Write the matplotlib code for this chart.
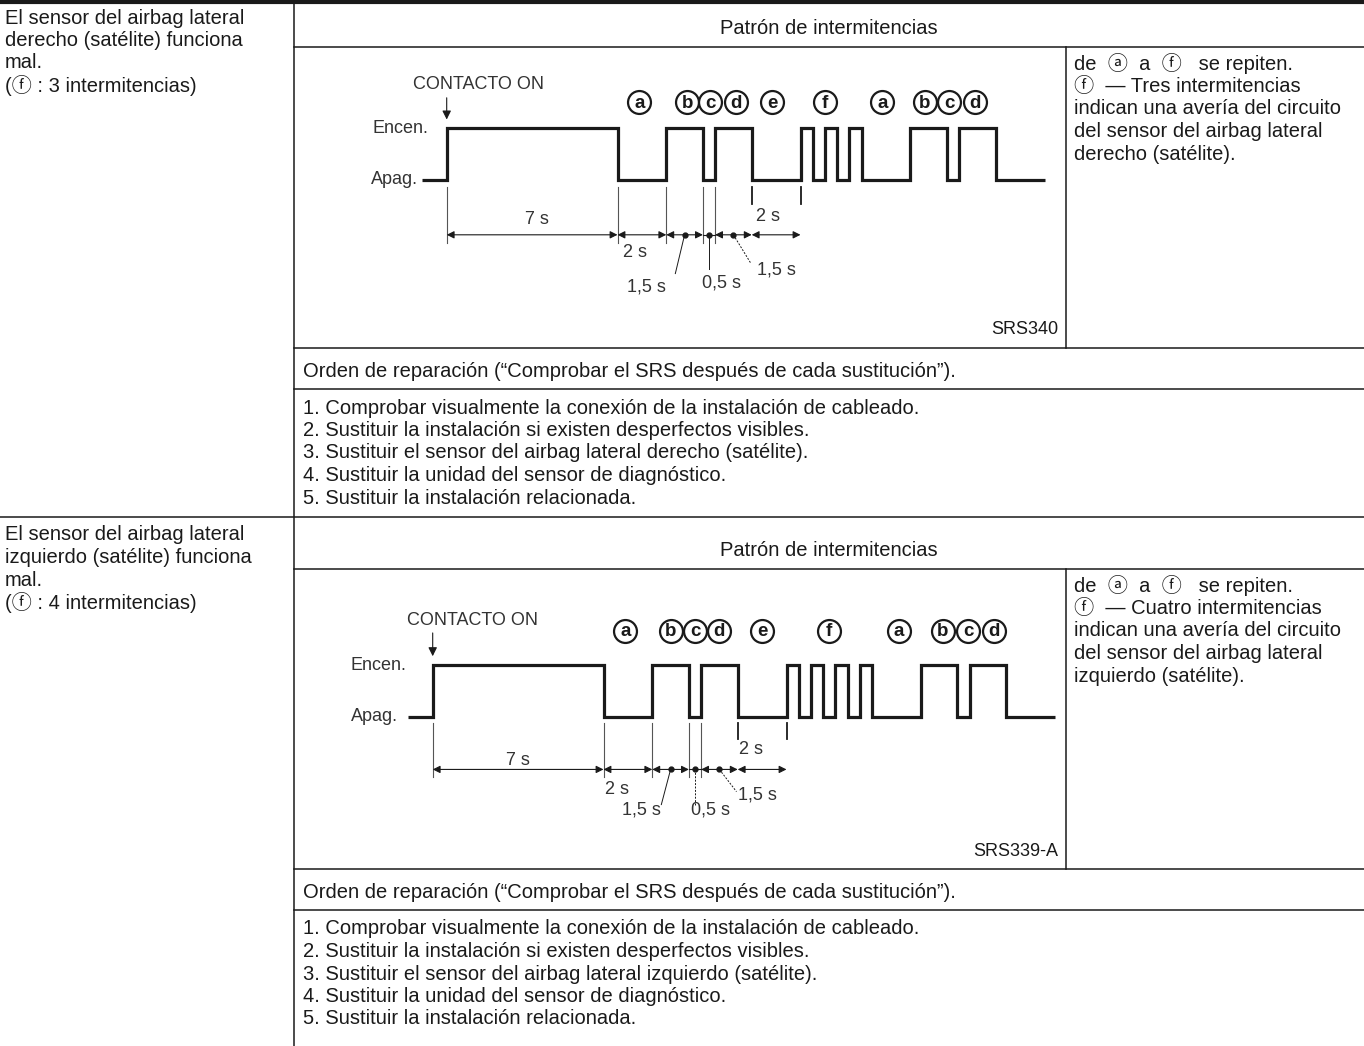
import matplotlib
matplotlib.use('Agg')
import matplotlib.pyplot as plt

plt.rcParams['font.family'] = ['Liberation Sans', 'Noto Sans CJK JP', 'DejaVu Sans']

W, H = 1364, 1046
PPS = 24.4      # pixels per second in the pattern drawings
UNIT = 51.7     # pixels between "Apag." and "Encen."

# blink patterns: level (1 = Encen., 0 = Apag.) and duration in s, starting 1 s before CONTACTO ON
levels_1 = [0, 1, 0, 1, 0, 1, 0, 1, 0, 1, 0, 1, 0, 1, 0, 1, 0]
durations_1 = [1, 7, 2, 1.5, 0.5, 1.5, 2, 0.5, 0.5, 0.5, 0.5, 0.5, 2, 1.5, 0.5, 1.5, 2]
levels_2 = [0, 1, 0, 1, 0, 1, 0, 1, 0, 1, 0, 1, 0, 1, 0, 1, 0, 1, 0]
durations_2 = [1, 7, 2, 1.5, 0.5, 1.5, 2, 0.5, 0.5, 0.5, 0.5, 0.5, 0.5, 0.5, 2, 1.5, 0.5, 1.5, 2]

# circled phase letters and where they sit (s)
letters = ['a', 'b', 'c', 'd', 'e', 'f', 'a', 'b', 'c', 'd']
letter_t_1 = [7.9, 9.85, 10.8, 11.85, 13.35, 15.5, 17.85, 19.6, 20.6, 21.65]
letter_t_2 = [7.9, 9.75, 10.75, 11.75, 13.5, 16.25, 19.1, 20.9, 21.95, 23.0]

# dimension marks (s) and texts
dim_marks = [0, 7, 9, 10.5, 11, 12.5, 14.5]
dim_texts = ['7 s', '2 s', '1,5 s', '0,5 s', '1,5 s', '2 s']

header = 'Patrón de intermitencias'
orden = 'Orden de reparación (\u201cComprobar el SRS después de cada sustitución\u201d).'

left_1 = ['El sensor del airbag lateral', 'derecho (satélite) funciona', 'mal.',
          '(\u24d5 : 3 intermitencias)']
left_2 = ['El sensor del airbag lateral', 'izquierdo (satélite) funciona', 'mal.',
          '(\u24d5 : 4 intermitencias)']
right_1 = ['de  \u24d0  a  \u24d5   se repiten.', '\u24d5  \u2014 Tres intermitencias',
           'indican una avería del circuito', 'del sensor del airbag lateral',
           'derecho (satélite).']
right_2 = ['de  \u24d0  a  \u24d5   se repiten.', '\u24d5  \u2014 Cuatro intermitencias',
           'indican una avería del circuito', 'del sensor del airbag lateral',
           'izquierdo (satélite).']
steps_1 = ['1. Comprobar visualmente la conexión de la instalación de cableado.',
           '2. Sustituir la instalación si existen desperfectos visibles.',
           '3. Sustituir el sensor del airbag lateral derecho (satélite).',
           '4. Sustituir la unidad del sensor de diagnóstico.',
           '5. Sustituir la instalación relacionada.']
steps_2 = ['1. Comprobar visualmente la conexión de la instalación de cableado.',
           '2. Sustituir la instalación si existen desperfectos visibles.',
           '3. Sustituir el sensor del airbag lateral izquierdo (satélite).',
           '4. Sustituir la unidad del sensor de diagnóstico.',
           '5. Sustituir la instalación relacionada.']
codes = ['SRS340', 'SRS339-A']

FS = 14.5
DFS = 13
INK = '#1a1a1a'
GREY = '#333333'

fig = plt.figure(figsize=(W / 100, H / 100), dpi=100)
base = fig.add_axes([0, 0, 1, 1])
base.set_xlim(0, W)
base.set_ylim(H, 0)
base.axis('off')


def wave_axes(box, t0_px, lo_px):
    x0, y0, x1, y1 = box
    ax = fig.add_axes([x0 / W, 1 - y1 / H, (x1 - x0) / W, (y1 - y0) / H])
    ax.set_xlim((x0 - t0_px) / PPS, (x1 - t0_px) / PPS)
    ax.set_ylim((lo_px - y1) / UNIT, (lo_px - y0) / UNIT)
    ax.axis('off')
    return ax


def draw_pattern(ax, levels, durations, letter_t, lay):
    xs, ys = [], []
    t = -durations[0]
    for lv, d in zip(levels, durations):
        xs += [t, t + d]
        ys += [lv, lv]
        t += d
    ax.plot(xs, ys, color=INK, lw=2.3, solid_joinstyle='miter', solid_capstyle='butt')

    ax.text(lay['encen'], 1, 'Encen.', ha='right', va='center', fontsize=DFS, color=GREY)
    ax.text(lay['apag'], 0, 'Apag.', ha='right', va='center', fontsize=DFS, color=GREY)
    ax.text(lay['contact'], lay['contact_y'], 'CONTACTO ON', ha='left', va='center',
            fontsize=DFS, color=GREY)
    ax.annotate('', xy=(0, 1.17), xytext=(0, lay['contact_y'] - 0.25),
                arrowprops=dict(arrowstyle='-|>', color=INK, lw=0.8, mutation_scale=13,
                                shrinkA=0, shrinkB=0))

    # circled letters
    for lt, tx in zip(letters, letter_t):
        ax.plot(tx, lay['letter_y'], 'o', ms=16.5, mfc='white', mec=INK, mew=1.6)
        ax.text(tx, lay['letter_y'] - 0.02, lt, ha='center', va='center', fontsize=13.5,
                fontweight='bold', color=INK)

    # extension lines
    yd = lay['dim_y']
    for m in dim_marks[:5]:
        ax.plot([m, m], [-0.13, yd - 0.15], color='#555555', lw=0.8)
    for m in dim_marks[5:]:
        ax.plot([m, m], [-0.13, lay['ext_short']], color=INK, lw=1.3)

    # dimension arrows
    for i in range(len(dim_marks) - 1):
        a, b = dim_marks[i], dim_marks[i + 1]
        if b - a < 1:
            ax.plot([a, b], [yd, yd], color=INK, lw=0.8)
        else:
            ax.annotate('', xy=(b, yd), xytext=(a, yd),
                        arrowprops=dict(arrowstyle='<|-|>', color=INK, lw=0.8,
                                        mutation_scale=11, shrinkA=0, shrinkB=0))
    for i in (2, 3, 4):
        mid = (dim_marks[i] + dim_marks[i + 1]) / 2
        ax.plot(mid, yd, 'o', ms=3.5, color=INK)

    # leaders from the dots to their labels
    ax.plot([9.75, 9.37], [yd, lay['lead_b']], color=INK, lw=0.7)
    ax.plot([10.75, 10.75], [yd, lay['lead_c']], color=INK, lw=0.7, ls=lay['c_ls'])
    ax.plot([11.75, 12.45], [yd, lay['lead_d']], color=INK, lw=0.7, ls=(0, (2, 1.5)))

    for txt, (px, py) in zip(dim_texts, lay['labels']):
        ax.text(px, py, txt, ha='center', va='center', fontsize=DFS, color=GREY)


lay_1 = dict(encen=-0.77, apag=-1.18, contact=-1.37, contact_y=1.84, letter_y=1.5,
             dim_y=-1.06, ext_short=-0.46, lead_b=-1.81, lead_c=-1.72, lead_d=-1.6, c_ls='-',
             labels=[(3.7, -0.77), (7.7, -1.41), (8.2, -2.06), (11.27, -2.0),
                     (13.5, -1.74), (13.15, -0.71)])
lay_2 = dict(encen=-1.07, apag=-1.42, contact=-1.05, contact_y=1.87, letter_y=1.66,
             dim_y=-1.02, ext_short=-0.44, lead_b=-1.7, lead_c=-1.72, lead_d=-1.45,
             c_ls=(0, (2, 1.5)),
             labels=[(3.5, -0.84), (7.55, -1.4), (8.55, -1.8), (11.38, -1.8),
                     (13.3, -1.52), (13.05, -0.63)])

# table rules
XL, XD = 294, 1066
base.plot([0, W], [2, 2], color=INK, lw=3)
base.plot([XL, XL], [0, H], color=INK, lw=1.1)
rows = [dict(top=0, hdr=47, diag=348, ord=389, end=517),
        dict(top=517, hdr=569, diag=869, ord=910, end=H)]
base.plot([0, W], [517, 517], color=INK, lw=1.1)
for r in rows:
    for y in (r['hdr'], r['diag'], r['ord']):
        base.plot([XL, W], [y, y], color=INK, lw=1.1)
    base.plot([XD, XD], [r['hdr'], r['diag']], color=INK, lw=1.1)

blocks = [(rows[0], left_1, right_1, steps_1, codes[0], levels_1, durations_1, letter_t_1,
           lay_1, 446.7, 180.0, 5),
          (rows[1], left_2, right_2, steps_2, codes[1], levels_2, durations_2, letter_t_2,
           lay_2, 432.7, 716.7, 8)]
LS = 22.5
for r, left, right, steps, code, lv, du, lt, lay, t0, lo, hdr_dy in blocks:
    top = r['top']
    for i, s in enumerate(left):
        base.text(5, top + 18 + LS * i, s, ha='left', va='center', fontsize=FS, color=INK)
    base.text((XL + W) / 2, (top + r['hdr']) / 2 + hdr_dy, header, ha='center',
              va='center', fontsize=FS, color=INK)
    for i, s in enumerate(right):
        base.text(1074, r['hdr'] + 17 + LS * i, s, ha='left', va='center', fontsize=FS,
                  color=INK)
    base.text(XD - 8, r['diag'] - 18, code, ha='right', va='center', fontsize=13, color=INK)
    base.text(303, (r['diag'] + r['ord']) / 2 + 3, orden, ha='left', va='center',
              fontsize=FS, color=INK)
    for i, s in enumerate(steps):
        base.text(303, r['ord'] + 19 + LS * i, s, ha='left', va='center', fontsize=FS,
                  color=INK)
    ax = wave_axes((XL + 2, r['hdr'] + 2, XD - 2, r['diag'] - 2), t0, lo)
    draw_pattern(ax, lv, du, lt, lay)

fig.savefig('out.png', dpi=100)
